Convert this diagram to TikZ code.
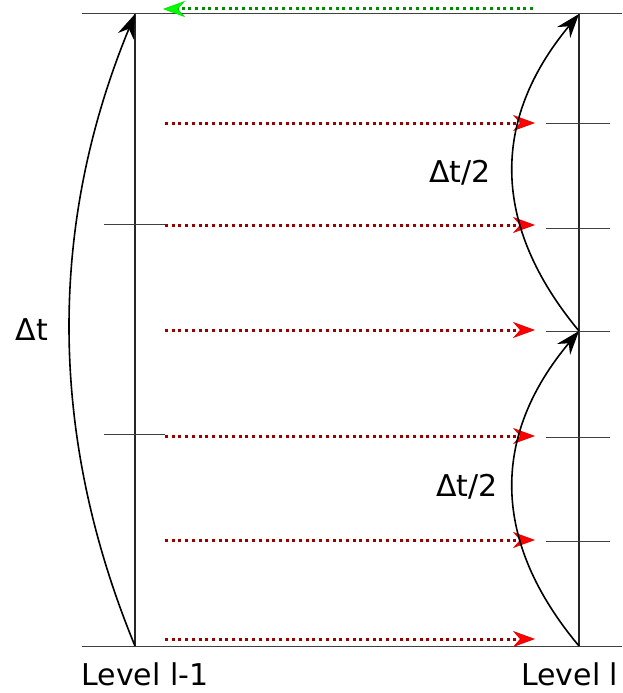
\documentclass[tikz,border=0pt]{standalone}
\usepackage{fontspec}
\setmainfont{DejaVu Sans}
\usetikzlibrary{arrows.meta, positioning}
\tikzstyle{level} = [line width=2.4pt, draw=black!85]
\tikzstyle{tick} = [line width=1pt, draw=black!75]
\tikzstyle{dt} = [line width=1.6pt, draw=black, -{Stealth[length=24pt, width=17pt, inset=8pt]}]
\tikzstyle{restrict} = [line width=3pt, dash pattern=on 3pt off 3.7pt, draw=red!60!black, -{Stealth[length=22pt, width=16pt, inset=7pt, fill=red, color=red!85!black, line width=0.6pt]}]
\tikzstyle{prolong} = [line width=3pt, dash pattern=on 3pt off 3.7pt, draw=green!55!black, -{Stealth[length=22pt, width=16pt, inset=7pt, fill=green, color=green!85!black, line width=0.6pt]}]
\tikzstyle{lbl} = [font=\fontsize{30}{33}\selectfont, inner sep=0pt]

\begin{document}
\begin{tikzpicture}[x=1pt, y=-1pt]
        \useasboundingbox (0,0) rectangle (622,693);

        % Niveles l-1 y l
        \coordinate (cTop) at (135,14);
        \coordinate (cBot) at (135,646);
        \coordinate (fTop) at (579,14);
        \coordinate (fMid) at (579,331);
        \coordinate (fBot) at (579,646);
        \draw[tick] (82,14) -- (622,14);
        \draw[tick] (82,646) -- (622,646);
        \draw[level] (cBot) -- (cTop);
        \draw[level] (fBot) -- (fTop);

        % Marcas de los niveles
        \draw[tick] (104,224) -- (165,224);
        \draw[tick] (104,434) -- (165,434);
        \foreach \y in {123,228,331,437,541}
            \draw[tick] (546,\y) -- (610,\y);

        % Flechas rojas (nivel l-1 hacia nivel l)
        \foreach \y [count=\i] in {123,225,330,436,540,639} {
            \coordinate (rs\i) at (165,\y);
            \coordinate (re\i) at (535,\y);
            \draw[restrict] (rs\i) -- (re\i);
        }

        % Flecha verde (nivel l hacia nivel l-1)
        \coordinate (gs) at (533,9);
        \coordinate (ge) at (163,9);
        \draw[prolong] (gs) -- (ge);

        % Pasos de tiempo
        \draw[dt] (cBot) .. controls (48,435) and (48,225) .. (cTop);
        \draw[dt] (fBot) .. controls (491,541) and (491,436) .. (fMid);
        \draw[dt] (fMid) .. controls (491,225) and (491,120) .. (fTop);

        % Etiquetas
        \node[lbl] (dT) at (32,330) {Δt};
        \node[lbl] (dTa) at (460,173) {Δt/2};
        \node[lbl] (dTb) at (467,487) {Δt/2};
        \node[lbl] (lvA) at (145,674) {Level l-1};
        \node[lbl, anchor=west] (lvB) at (521,674) {Level l};

    \end{tikzpicture}
\end{document}
